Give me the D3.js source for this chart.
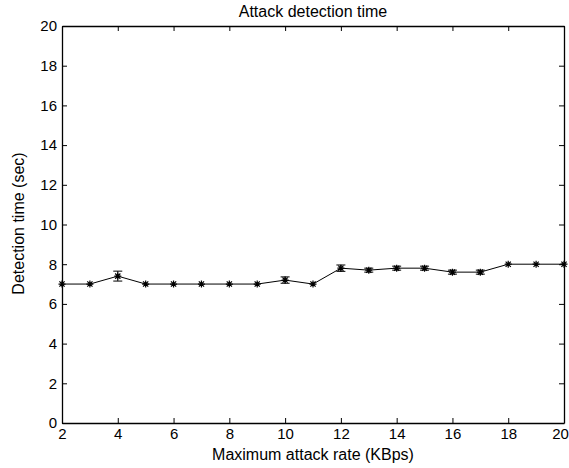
<!DOCTYPE html>
<html><head><meta charset="utf-8">
<script src="https://cdn.jsdelivr.net/npm/d3@7"></script>
<style>body{margin:0;background:#fff}svg{display:block}text{font-family:"Liberation Sans",Arial,sans-serif;fill:#000}</style>
</head><body><div id="chart"></div>
<script>
const rates = [2,3,4,5,6,7,8,9,10,11,12,13,14,15,16,17,18,19,20];
const detectionTime = [7,7,7.4,7,7,7,7,7,7.2,7,7.8,7.7,7.8,7.8,7.6,7.6,8,8,8];
const errorHalf = [0,0,0.25,0,0,0,0,0,0.16,0,0.16,0.1,0.1,0.1,0.1,0.1,0,0,0];
const xTicks = [2,4,6,8,10,12,14,16,18,20];
const yTicks = [0,2,4,6,8,10,12,14,16,18,20];

const W = 569, H = 468;
const m = {left:62, right:5, top:26, bottom:45};
const svg = d3.select("#chart").append("svg").attr("width", W).attr("height", H);
const x = d3.scaleLinear().domain([2,20]).range([m.left, W - m.right]);
const y = d3.scaleLinear().domain([0,20]).range([H - m.bottom, m.top]);

const fs = 15, fl = 16;
const gx = svg.append("g").attr("transform", `translate(0,${y(0)})`)
  .call(d3.axisBottom(x).tickValues(xTicks).tickSizeInner(-5).tickSizeOuter(0).tickPadding(5));
const gxt = svg.append("g").attr("transform", `translate(0,${y(20)})`)
  .call(d3.axisTop(x).tickValues(xTicks).tickSizeInner(-5).tickSizeOuter(0).tickFormat(""));
const gy = svg.append("g").attr("transform", `translate(${x(2)},0)`)
  .call(d3.axisLeft(y).tickValues(yTicks).tickSizeInner(-5).tickSizeOuter(0).tickPadding(5));
const gyr = svg.append("g").attr("transform", `translate(${x(20)},0)`)
  .call(d3.axisRight(y).tickValues(yTicks).tickSizeInner(-5).tickSizeOuter(0).tickFormat(""));
[gx,gxt,gy,gyr].forEach(g => {
  g.selectAll(".domain").attr("stroke","#000").attr("stroke-width",1.3);
  g.selectAll(".tick line").attr("stroke","#000").attr("stroke-width",1);
  g.selectAll("text").attr("font-size", fs).attr("font-family",'"Liberation Sans",Arial,sans-serif').attr("fill","#000");
});
gx.selectAll(".tick text").attr("dy","0.71em");
// keep the last x tick label inside the page, as in the reference
gx.selectAll(".tick text").filter(d => d === 20).attr("x", -4);

const data = rates.map((r,i) => ({r, v: detectionTime[i], e: errorHalf[i]}));

svg.append("path").datum(data)
  .attr("fill","none").attr("stroke","#000").attr("stroke-width",1)
  .attr("d", d3.line().x(d => x(d.r)).y(d => y(d.v)));

const eb = svg.append("g").attr("stroke","#000").attr("stroke-width",1);
data.filter(d => d.e > 0).forEach(d => {
  const cx = x(d.r), y1 = y(d.v + d.e), y2 = y(d.v - d.e);
  eb.append("line").attr("x1",cx).attr("x2",cx).attr("y1",y1).attr("y2",y2);
  eb.append("line").attr("x1",cx-4.5).attr("x2",cx+4.5).attr("y1",y1).attr("y2",y1);
  eb.append("line").attr("x1",cx-4.5).attr("x2",cx+4.5).attr("y1",y2).attr("y2",y2);
});

const mk = svg.append("g").attr("stroke","#000").attr("stroke-width",1.2);
const s = 3.5, s2 = 2.6;
data.forEach(d => {
  const cx = x(d.r), cy = y(d.v);
  mk.append("path").attr("d",
    `M${cx-s},${cy}L${cx+s},${cy}M${cx},${cy-s}L${cx},${cy+s}` +
    `M${cx-s2},${cy-s2}L${cx+s2},${cy+s2}M${cx-s2},${cy+s2}L${cx+s2},${cy-s2}`);
});

svg.append("text").attr("x",(x(2)+x(20))/2).attr("y",17).attr("text-anchor","middle")
  .attr("font-size",fl).text("Attack detection time");
svg.append("text").attr("x",(x(2)+x(20))/2).attr("y",460).attr("text-anchor","middle")
  .attr("font-size",fl).text("Maximum attack rate (KBps)");
svg.append("text").attr("transform",`translate(24,${(y(0)+y(20))/2 - 1}) rotate(-90)`)
  .attr("text-anchor","middle").attr("font-size",fl).text("Detection time (sec)");
</script></body></html>
